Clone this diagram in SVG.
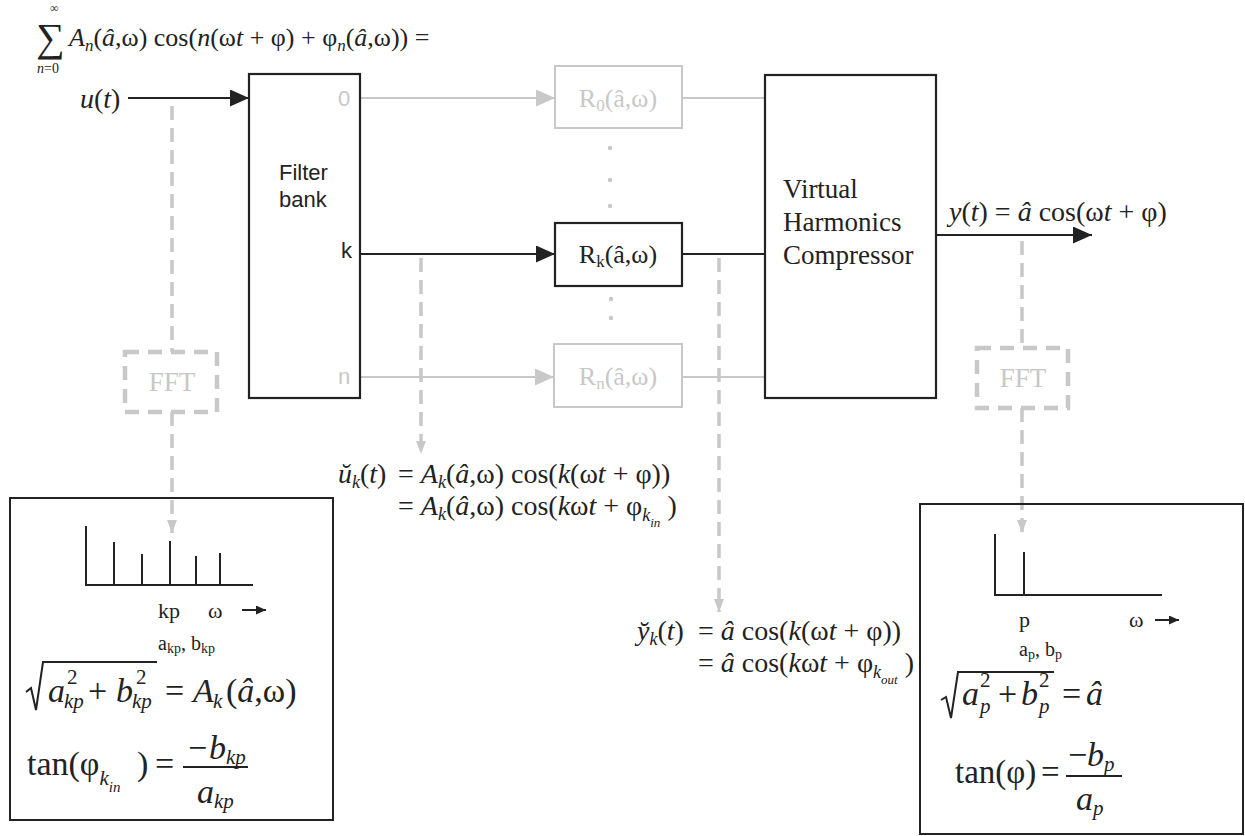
<svg xmlns="http://www.w3.org/2000/svg" width="1245" height="836" viewBox="0 0 1245 836">
<defs>
<style>
.m{font-family:"Liberation Serif","Times New Roman",serif;fill:#222}
.s{font-family:"Liberation Sans",Arial,sans-serif;fill:#222}
.i{font-style:italic}
.g{fill:#c8c8c8}
.bx{fill:#fff;stroke:#222;stroke-width:2.2}
.ob{fill:none;stroke:#222;stroke-width:2}
.gbx{fill:#fff;stroke:#c8c8c8;stroke-width:2}
.ln{stroke:#222;stroke-width:2;fill:none}
.gln{stroke:#c8c8c8;stroke-width:2;fill:none}
.dash{stroke:#c8c8c8;stroke-width:3.5;stroke-dasharray:14 8;fill:none}
.fft{fill:#fff;stroke:#c8c8c8;stroke-width:4.5;stroke-dasharray:14 9}
</style>
<marker id="ah" markerUnits="userSpaceOnUse" markerWidth="19" markerHeight="17" refX="19" refY="8.5" orient="auto"><path d="M0,0L19,8.5L0,17z" fill="#222"/></marker>
<marker id="ahg" markerUnits="userSpaceOnUse" markerWidth="19" markerHeight="17" refX="19" refY="8.5" orient="auto"><path d="M0,0L19,8.5L0,17z" fill="#c8c8c8"/></marker>
<marker id="ahs" markerUnits="userSpaceOnUse" markerWidth="13" markerHeight="10" refX="13" refY="5" orient="auto"><path d="M0,0L13,5L0,10z" fill="#c8c8c8"/></marker>
<marker id="ahk" markerUnits="userSpaceOnUse" markerWidth="10" markerHeight="9" refX="10" refY="4.5" orient="auto"><path d="M0,0L10,4.5L0,9z" fill="#222"/></marker>
</defs>
<rect width="1245" height="836" fill="#fff"/>

<g id="connectors">
<line class="ln" x1="128" y1="98" x2="249" y2="98" marker-end="url(#ah)"/>
<line class="gln" x1="360" y1="98" x2="555" y2="98" marker-end="url(#ahg)"/>
<line class="ln" x1="360" y1="254" x2="555" y2="254" marker-end="url(#ah)"/>
<line class="gln" x1="360" y1="377" x2="554" y2="377" marker-end="url(#ahg)"/>
<line class="gln" x1="682" y1="98" x2="765" y2="98"/>
<line class="ln" x1="682" y1="254" x2="765" y2="254"/>
<line class="gln" x1="682" y1="377" x2="765" y2="377"/>
<line class="ln" x1="936" y1="235" x2="1092" y2="235" marker-end="url(#ah)"/>
<line class="dash" x1="172" y1="106" x2="172" y2="352"/>
<line class="dash" x1="172" y1="412" x2="172" y2="533" marker-end="url(#ahs)"/>
<line class="dash" x1="1022" y1="241" x2="1022" y2="348"/>
<line class="dash" x1="1022" y1="408" x2="1022" y2="533" marker-end="url(#ahs)"/>
<line class="dash" x1="421" y1="258" x2="421" y2="454" marker-end="url(#ahs)"/>
<line class="dash" x1="719" y1="258" x2="719" y2="612" marker-end="url(#ahs)"/>
</g>

<g id="top-formula">
<text class="m" font-size="40" x="36" y="51">∑</text>
<text class="m" font-size="12" x="50" y="12">∞</text>
<text class="m" font-size="14" x="37" y="73"><tspan class="i">n</tspan>=0</text>
<text class="m" font-size="26" x="69" y="46"><tspan class="i">A</tspan><tspan class="i" font-size="17" dy="5">n</tspan><tspan dy="-5">(</tspan><tspan class="i">â</tspan>,ω) cos(<tspan class="i">n</tspan>(ω<tspan class="i">t</tspan> + φ) + φ<tspan class="i" font-size="17" dy="5">n</tspan><tspan dy="-5">(</tspan><tspan class="i">â</tspan>,ω)) =</text>
</g>

<g id="input-label">
<text class="m" font-size="28" x="80" y="108"><tspan class="i">u</tspan>(<tspan class="i">t</tspan>)</text>
</g>

<g id="filter-bank">
<rect class="bx" x="249" y="74" width="111" height="324"/>
<text class="s" font-size="22" x="279" y="180">Filter</text>
<text class="s" font-size="22" x="279" y="207">bank</text>
<text class="s g" font-size="22" x="338" y="106">0</text>
<text class="s" font-size="22" x="341" y="258">k</text>
<text class="s g" font-size="22" x="338" y="384">n</text>
</g>

<g id="r0">
<rect class="gbx" x="555" y="66" width="127" height="62"/>
<text class="m g" font-size="26" x="618" y="107" text-anchor="middle">R<tspan font-size="17" dy="4">0</tspan><tspan dy="-4">(â,ω)</tspan></text>
</g>
<g id="rk">
<rect class="bx" x="555" y="223" width="127" height="63"/>
<text class="m" font-size="26" x="618" y="263" text-anchor="middle">R<tspan font-size="17" dy="4">k</tspan><tspan dy="-4">(â,ω)</tspan></text>
</g>
<g id="rn">
<rect class="gbx" x="554" y="344" width="128" height="63"/>
<text class="m g" font-size="26" x="618" y="385" text-anchor="middle">R<tspan font-size="17" dy="4">n</tspan><tspan dy="-4">(â,ω)</tspan></text>
</g>
<g id="dots" fill="#c8c8c8">
<circle cx="610" cy="148" r="2.2"/>
<circle cx="610" cy="180" r="2.2"/>
<circle cx="610" cy="206" r="2.2"/>
<circle cx="611" cy="299" r="2.2"/>
<circle cx="611" cy="318" r="2.2"/>
</g>

<g id="vhc">
<rect class="bx" x="765" y="75" width="171" height="323"/>
<text class="m" font-size="27" x="783" y="198">Virtual</text>
<text class="m" font-size="27" x="783" y="231">Harmonics</text>
<text class="m" font-size="27" x="783" y="264">Compressor</text>
</g>

<g id="output-label">
<text class="m" font-size="28" x="949" y="221"><tspan class="i">y</tspan>(<tspan class="i">t</tspan>) = <tspan class="i">â</tspan> cos(ω<tspan class="i">t</tspan> + φ)</text>
</g>

<g id="fft-left">
<rect class="fft" x="125" y="352" width="92" height="60"/>
<text class="m g" font-size="27" x="172" y="391" text-anchor="middle">FFT</text>
</g>
<g id="fft-right">
<rect class="fft" x="977" y="348" width="91" height="60"/>
<text class="m g" font-size="27" x="1023" y="387" text-anchor="middle">FFT</text>
</g>

<g id="uk-formula">
<text class="m" font-size="28" x="338" y="483"><tspan class="i">ŭ</tspan><tspan class="i" font-size="18" dy="5">k</tspan><tspan dy="-5">(</tspan><tspan class="i">t</tspan>)</text>
<text class="m" font-size="28" x="398" y="483">= <tspan class="i">A</tspan><tspan class="i" font-size="18" dy="5">k</tspan><tspan dy="-5">(</tspan><tspan class="i">â</tspan>,ω) cos(<tspan class="i">k</tspan>(ω<tspan class="i">t</tspan> + φ))</text>
<text class="m" font-size="28" x="398" y="515">= <tspan class="i">A</tspan><tspan class="i" font-size="18" dy="5">k</tspan><tspan dy="-5">(</tspan><tspan class="i">â</tspan>,ω) cos(<tspan class="i">k</tspan>ω<tspan class="i">t</tspan> + φ<tspan class="i" font-size="18" dy="6">k</tspan><tspan class="i" font-size="13" dy="6">in</tspan><tspan dy="-12"> )</tspan></text>
</g>

<g id="yk-formula">
<text class="m" font-size="28" x="637" y="640"><tspan class="i">y̆</tspan><tspan class="i" font-size="18" dy="5">k</tspan><tspan dy="-5">(</tspan><tspan class="i">t</tspan>)</text>
<text class="m" font-size="28" x="698" y="640">= <tspan class="i">â</tspan> cos(<tspan class="i">k</tspan>(ω<tspan class="i">t</tspan> + φ))</text>
<text class="m" font-size="28" x="698" y="672">= <tspan class="i">â</tspan> cos(<tspan class="i">k</tspan>ω<tspan class="i">t</tspan> + φ<tspan class="i" font-size="18" dy="6">k</tspan><tspan class="i" font-size="13" dy="6">out</tspan><tspan dy="-12"> )</tspan></text>
</g>

<g id="box-left">
<rect class="ob" x="10" y="498" width="323" height="322"/>
<polyline class="ln" points="86,526 86,585 253,585"/>
<line class="ln" x1="114" y1="542" x2="114" y2="585"/>
<line class="ln" x1="142" y1="554" x2="142" y2="585"/>
<line class="ln" x1="170" y1="541" x2="170" y2="585"/>
<line class="ln" x1="196" y1="556" x2="196" y2="585"/>
<line class="ln" x1="220" y1="553" x2="220" y2="585"/>
<text class="m" font-size="22" x="158" y="618">kp</text>
<text class="m" font-size="22" x="208" y="618">ω</text>
<line class="ln" x1="242" y1="610" x2="266" y2="610" marker-end="url(#ahk)"/>
<text class="m" font-size="20" x="158" y="650">a<tspan font-size="14" dy="3">kp</tspan><tspan dy="-3">, b</tspan><tspan font-size="14" dy="3">kp</tspan></text>
<polyline class="ln" points="26,692 31,688 36,710 43,662 157,662"/>
<text class="m" font-size="34" y="702"><tspan class="i" x="48">a</tspan><tspan font-size="21" x="67" y="684">2</tspan><tspan class="i" font-size="21" x="64" y="708">kp</tspan><tspan x="88" y="702">+</tspan><tspan class="i" x="116">b</tspan><tspan font-size="21" x="136" y="684">2</tspan><tspan class="i" font-size="21" x="132" y="708">kp</tspan><tspan x="165" y="702">=</tspan><tspan class="i" x="193">A</tspan><tspan class="i" font-size="21" x="213" y="708">k</tspan><tspan x="226" y="702">(</tspan><tspan class="i">â</tspan>,ω)</text>
<text class="m" font-size="34" x="27" y="775">tan(φ<tspan class="i" font-size="21" dy="10">k</tspan><tspan class="i" font-size="15" dy="7">in</tspan><tspan x="137" dy="-17">)</tspan><tspan x="155">=</tspan></text>
<line class="ln" x1="183" y1="767" x2="248" y2="767"/>
<text class="m" font-size="34" x="188" y="759">−<tspan class="i" x="209">b</tspan><tspan class="i" font-size="21" dy="5">kp</tspan></text>
<text class="m" font-size="34" y="803"><tspan class="i" x="197">a</tspan><tspan class="i" font-size="21" dy="5">kp</tspan></text>
</g>

<g id="box-right">
<rect class="ob" x="920" y="504" width="323" height="330"/>
<polyline class="ln" points="995,534 995,595 1162,595"/>
<line class="ln" x1="1024" y1="552" x2="1024" y2="595"/>
<text class="m" font-size="22" x="1019" y="627">p</text>
<text class="m" font-size="22" x="1129" y="627">ω</text>
<line class="ln" x1="1155" y1="620" x2="1179" y2="620" marker-end="url(#ahk)"/>
<text class="m" font-size="20" x="1019" y="656">a<tspan font-size="14" dy="3">p</tspan><tspan dy="-3">, b</tspan><tspan font-size="14" dy="3">p</tspan></text>
<polyline class="ln" points="941,700 946,697 951,718 958,672 1054,672"/>
<text class="m" font-size="34" y="705"><tspan class="i" x="962">a</tspan><tspan font-size="21" x="980" y="687">2</tspan><tspan class="i" font-size="21" x="980" y="713">p</tspan><tspan x="998" y="705">+</tspan><tspan class="i" x="1021">b</tspan><tspan font-size="21" x="1039" y="687">2</tspan><tspan class="i" font-size="21" x="1039" y="713">p</tspan><tspan x="1062" y="705">=</tspan><tspan class="i" x="1086">â</tspan></text>
<text class="m" font-size="33" x="955" y="783">tan(φ)<tspan x="1041">=</tspan></text>
<line class="ln" x1="1066" y1="776" x2="1122" y2="776"/>
<text class="m" font-size="34" x="1068" y="766">−<tspan class="i" x="1087">b</tspan><tspan class="i" font-size="21" dy="5">p</tspan></text>
<text class="m" font-size="34" y="810"><tspan class="i" x="1076">a</tspan><tspan class="i" font-size="21" dy="5">p</tspan></text>
</g>
</svg>
